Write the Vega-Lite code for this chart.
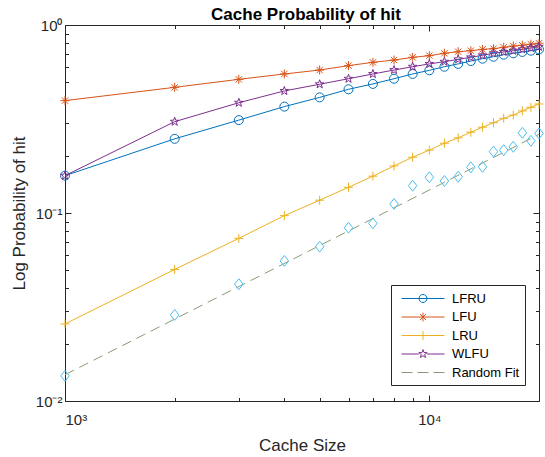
{
  "$schema": "https://vega.github.io/schema/vega-lite/v6.json",
  "autosize": {"type": "none"},
  "padding": {"left": 65, "top": 25, "right": 6, "bottom": 56},
  "width": 474,
  "height": 376,
  "background": "white",
  "title": {"text": "Cache Probability of hit", "font": "Liberation Sans", "fontSize": 17, "fontWeight": "bold", "color": "#000000", "frame": "group", "anchor": "middle", "offset": 3, "dx": 4, "dy": 9},
  "config": {
    "view": {"stroke": "#262626", "strokeWidth": 1},
    "axis": {"domain": false, "grid": false, "tickColor": "#262626", "tickWidth": 1, "labelColor": "#262626", "labelFont": "Liberation Sans", "labelFontSize": 15, "titleColor": "#262626", "titleFont": "Liberation Sans", "titleFontSize": 17, "titleFontWeight": "normal"}
  },
  "datasets": {
    "main": [
      {"size": 1000, "p": 0.158, "series": "LFRU"}, {"size": 2000, "p": 0.248, "series": "LFRU"}, {"size": 3000, "p": 0.312, "series": "LFRU"}, {"size": 4000, "p": 0.368, "series": "LFRU"}, {"size": 5000, "p": 0.412, "series": "LFRU"}, {"size": 6000, "p": 0.455, "series": "LFRU"}, {"size": 7000, "p": 0.486, "series": "LFRU"}, {"size": 8000, "p": 0.518, "series": "LFRU"}, {"size": 9000, "p": 0.549, "series": "LFRU"}, {"size": 10000, "p": 0.574, "series": "LFRU"}, {"size": 11000, "p": 0.600, "series": "LFRU"}, {"size": 12000, "p": 0.621, "series": "LFRU"}, {"size": 13000, "p": 0.643, "series": "LFRU"}, {"size": 14000, "p": 0.662, "series": "LFRU"}, {"size": 15000, "p": 0.678, "series": "LFRU"}, {"size": 16000, "p": 0.695, "series": "LFRU"}, {"size": 17000, "p": 0.707, "series": "LFRU"}, {"size": 18000, "p": 0.719, "series": "LFRU"}, {"size": 19000, "p": 0.730, "series": "LFRU"}, {"size": 20000, "p": 0.742, "series": "LFRU"},
      {"size": 1000, "p": 0.396, "series": "LFU"}, {"size": 2000, "p": 0.466, "series": "LFU"}, {"size": 3000, "p": 0.514, "series": "LFU"}, {"size": 4000, "p": 0.549, "series": "LFU"}, {"size": 5000, "p": 0.576, "series": "LFU"}, {"size": 6000, "p": 0.608, "series": "LFU"}, {"size": 7000, "p": 0.633, "series": "LFU"}, {"size": 8000, "p": 0.651, "series": "LFU"}, {"size": 9000, "p": 0.673, "series": "LFU"}, {"size": 10000, "p": 0.687, "series": "LFU"}, {"size": 11000, "p": 0.707, "series": "LFU"}, {"size": 12000, "p": 0.721, "series": "LFU"}, {"size": 13000, "p": 0.730, "series": "LFU"}, {"size": 14000, "p": 0.742, "series": "LFU"}, {"size": 15000, "p": 0.748, "series": "LFU"}, {"size": 16000, "p": 0.761, "series": "LFU"}, {"size": 17000, "p": 0.773, "series": "LFU"}, {"size": 18000, "p": 0.780, "series": "LFU"}, {"size": 19000, "p": 0.790, "series": "LFU"}, {"size": 20000, "p": 0.800, "series": "LFU"},
      {"size": 1000, "p": 0.0257, "series": "LRU"}, {"size": 2000, "p": 0.0501, "series": "LRU"}, {"size": 3000, "p": 0.0733, "series": "LRU"}, {"size": 4000, "p": 0.0968, "series": "LRU"}, {"size": 5000, "p": 0.117, "series": "LRU"}, {"size": 6000, "p": 0.137, "series": "LRU"}, {"size": 7000, "p": 0.157, "series": "LRU"}, {"size": 8000, "p": 0.178, "series": "LRU"}, {"size": 9000, "p": 0.198, "series": "LRU"}, {"size": 10000, "p": 0.216, "series": "LRU"}, {"size": 11000, "p": 0.235, "series": "LRU"}, {"size": 12000, "p": 0.251, "series": "LRU"}, {"size": 13000, "p": 0.269, "series": "LRU"}, {"size": 14000, "p": 0.286, "series": "LRU"}, {"size": 15000, "p": 0.302, "series": "LRU"}, {"size": 16000, "p": 0.319, "series": "LRU"}, {"size": 17000, "p": 0.332, "series": "LRU"}, {"size": 18000, "p": 0.349, "series": "LRU"}, {"size": 19000, "p": 0.365, "series": "LRU"}, {"size": 20000, "p": 0.380, "series": "LRU"},
      {"size": 1000, "p": 0.158, "series": "WLFU"}, {"size": 2000, "p": 0.306, "series": "WLFU"}, {"size": 3000, "p": 0.386, "series": "WLFU"}, {"size": 4000, "p": 0.446, "series": "WLFU"}, {"size": 5000, "p": 0.484, "series": "WLFU"}, {"size": 6000, "p": 0.518, "series": "WLFU"}, {"size": 7000, "p": 0.549, "series": "WLFU"}, {"size": 8000, "p": 0.576, "series": "WLFU"}, {"size": 9000, "p": 0.600, "series": "WLFU"}, {"size": 10000, "p": 0.621, "series": "WLFU"}, {"size": 11000, "p": 0.638, "series": "WLFU"}, {"size": 12000, "p": 0.657, "series": "WLFU"}, {"size": 13000, "p": 0.673, "series": "WLFU"}, {"size": 14000, "p": 0.690, "series": "WLFU"}, {"size": 15000, "p": 0.707, "series": "WLFU"}, {"size": 16000, "p": 0.719, "series": "WLFU"}, {"size": 17000, "p": 0.730, "series": "WLFU"}, {"size": 18000, "p": 0.742, "series": "WLFU"}, {"size": 19000, "p": 0.755, "series": "WLFU"}, {"size": 20000, "p": 0.767, "series": "WLFU"},
      {"size": 1000, "p": 0.0136, "series": "Random"}, {"size": 2000, "p": 0.0287, "series": "Random"}, {"size": 3000, "p": 0.0418, "series": "Random"}, {"size": 4000, "p": 0.0556, "series": "Random"}, {"size": 5000, "p": 0.0662, "series": "Random"}, {"size": 6000, "p": 0.0835, "series": "Random"}, {"size": 7000, "p": 0.0881, "series": "Random"}, {"size": 8000, "p": 0.1117, "series": "Random"}, {"size": 9000, "p": 0.1397, "series": "Random"}, {"size": 10000, "p": 0.1549, "series": "Random"}, {"size": 11000, "p": 0.148, "series": "Random"}, {"size": 12000, "p": 0.156, "series": "Random"}, {"size": 13000, "p": 0.175, "series": "Random"}, {"size": 14000, "p": 0.176, "series": "Random"}, {"size": 15000, "p": 0.212, "series": "Random"}, {"size": 16000, "p": 0.216, "series": "Random"}, {"size": 17000, "p": 0.225, "series": "Random"}, {"size": 18000, "p": 0.267, "series": "Random"}, {"size": 19000, "p": 0.242, "series": "Random"}, {"size": 20000, "p": 0.265, "series": "Random"}
    ],
    "fit": [
      {"size": 1000, "p": 0.0138, "series": "Random Fit"},
      {"size": 20000, "p": 0.262, "series": "Random Fit"}
    ]
  },
  "resolve": {"scale": {"color": "independent", "shape": "independent"}, "axis": {"x": "independent", "y": "independent"}},
  "layer": [
    {
      "data": {"name": "main"},
      "transform": [{"filter": "datum.series != 'Random'"}],
      "mark": {"type": "line", "strokeWidth": 1},
      "encoding": {
        "x": {"field": "size", "type": "quantitative", "scale": {"type": "log", "domain": [1000, 20000], "nice": false},
          "axis": {"orient": "bottom", "values": [1000, 10000], "labelExpr": "datum.value == 1000 ? '10³' : '10⁴'", "ticks": false, "labelPadding": 11, "title": "Cache Size", "titleY": 44, "titleBaseline": "middle"}},
        "y": {"field": "p", "type": "quantitative", "scale": {"type": "log", "domain": [0.01, 1], "nice": false},
          "axis": {"orient": "left", "values": [0.01, 0.1, 1], "labelExpr": "datum.value == 1 ? '10⁰' : (datum.value == 0.1 ? '10⁻¹' : '10⁻²')", "ticks": false, "labelPadding": 3, "title": "Log Probability of hit", "titleX": -46, "titleBaseline": "middle"}},
        "color": {"field": "series", "type": "nominal", "scale": {"domain": ["LFRU", "LFU", "LRU", "WLFU"], "range": ["#0072BD", "#D95319", "#EDB120", "#7E2F8E"]}, "legend": null}
      }
    },
    {
      "data": {"name": "fit"},
      "mark": {"type": "line", "strokeWidth": 1, "strokeDash": [10, 6], "color": "#879c74"},
      "encoding": {
        "x": {"field": "size", "type": "quantitative", "scale": {"type": "log", "domain": [1000, 20000], "nice": false},
          "axis": {"orient": "bottom", "values": [2000, 3000, 4000, 5000, 6000, 7000, 8000, 9000, 20000], "labels": false, "tickSize": -3.5, "title": null}},
        "y": {"field": "p", "type": "quantitative", "scale": {"type": "log", "domain": [0.01, 1], "nice": false},
          "axis": {"orient": "left", "values": [0.02, 0.03, 0.04, 0.05, 0.06, 0.07, 0.08, 0.09, 0.2, 0.3, 0.4, 0.5, 0.6, 0.7, 0.8, 0.9], "labels": false, "tickSize": -3.5, "title": null}}
      }
    },
    {
      "data": {"name": "main"},
      "transform": [{"filter": "datum.series != 'Random'"}],
      "mark": {"type": "point", "filled": false, "size": 81, "strokeWidth": 1, "opacity": 1},
      "encoding": {
        "x": {"field": "size", "type": "quantitative", "scale": {"type": "log", "domain": [1000, 20000], "nice": false},
          "axis": {"orient": "top", "values": [1000, 10000], "labels": false, "tickSize": -6, "title": null}},
        "y": {"field": "p", "type": "quantitative", "scale": {"type": "log", "domain": [0.01, 1], "nice": false},
          "axis": {"orient": "right", "values": [0.01, 0.1, 1], "labels": false, "tickSize": -6, "title": null}},
        "color": {"field": "series", "type": "nominal", "scale": {"domain": ["LFRU", "LFU", "LRU", "WLFU"], "range": ["#0072BD", "#D95319", "#EDB120", "#7E2F8E"]}, "legend": null},
        "shape": {"field": "series", "type": "nominal", "scale": {"domain": ["LFRU", "LFU", "LRU", "WLFU"], "range": ["circle", "M-1,0H1M0,-1V1M-0.7,-0.7L0.7,0.7M-0.7,0.7L0.7,-0.7", "M-1,0H1M0,-1V1", "M0,-1L0.235,-0.324L0.951,-0.309L0.38,0.124L0.588,0.809L0,0.4L-0.588,0.809L-0.38,0.124L-0.951,-0.309L-0.235,-0.324Z"]}, "legend": null}
      }
    },
    {
      "data": {"name": "main"},
      "transform": [{"filter": "datum.series == 'Random'"}],
      "mark": {"type": "point", "filled": false, "size": 90, "strokeWidth": 1, "opacity": 1, "color": "#4DBEEE", "shape": "M0,-1.15L0.9,0L0,1.15L-0.9,0Z"},
      "encoding": {
        "x": {"field": "size", "type": "quantitative", "scale": {"type": "log", "domain": [1000, 20000], "nice": false},
          "axis": {"orient": "top", "values": [2000, 3000, 4000, 5000, 6000, 7000, 8000, 9000, 20000], "labels": false, "tickSize": -3.5, "title": null}},
        "y": {"field": "p", "type": "quantitative", "scale": {"type": "log", "domain": [0.01, 1], "nice": false},
          "axis": {"orient": "right", "values": [0.02, 0.03, 0.04, 0.05, 0.06, 0.07, 0.08, 0.09, 0.2, 0.3, 0.4, 0.5, 0.6, 0.7, 0.8, 0.9], "labels": false, "tickSize": -3.5, "title": null}}
      }
    },
    {
      "data": {"name": "main"},
      "transform": [{"filter": "datum.size < 0"}],
      "mark": {"type": "point", "filled": false, "size": 256, "strokeWidth": 1, "opacity": 1},
      "encoding": {
        "x": {"field": "size", "type": "quantitative", "scale": {"type": "log", "domain": [1000, 20000], "nice": false},
          "axis": {"orient": "bottom", "values": [1000, 10000], "labels": false, "tickSize": -6, "title": null}},
        "y": {"field": "p", "type": "quantitative", "scale": {"type": "log", "domain": [0.01, 1], "nice": false},
          "axis": {"orient": "left", "values": [0.01, 0.1, 1], "labels": false, "tickSize": -6, "title": null}},
        "color": {"field": "series", "type": "nominal", "scale": {"domain": ["LFRU", "LFU", "LRU", "WLFU", "Random Fit"], "range": ["#0072BD", "#D95319", "#EDB120", "#7E2F8E", "#879c74"]},
          "legend": {"orient": "none", "legendX": 326, "legendY": 260, "title": null, "symbolSize": 256, "symbolStrokeWidth": 1, "symbolOffset": 5, "labelOffset": 34, "rowPadding": 2.5, "padding": 5, "strokeColor": "#262626", "fillColor": "white", "labelFont": "Liberation Sans", "labelFontSize": 13, "labelColor": "#000000", "cornerRadius": 0}},
        "shape": {"field": "series", "type": "nominal", "scale": {"domain": ["LFRU", "LFU", "LRU", "WLFU", "Random Fit"], "range": [
            "M-1,0H4.375M2.1875,0A0.5,0.5 0 1,1 1.1875,0A0.5,0.5 0 1,1 2.1875,0",
            "M-1,0H4.375M1.6875,-0.55V0.55M1.2975,-0.39L2.0775,0.39M1.2975,0.39L2.0775,-0.39",
            "M-1,0H4.375M1.6875,-0.55V0.55",
            "M-1,0H1.1645M2.2105,0H4.375M1.6875,-0.55L1.8169,-0.178L2.2105,-0.17L1.8967,0.068L2.0109,0.445L1.6875,0.22L1.3641,0.445L1.4783,0.068L1.1645,-0.17L1.5581,-0.178Z",
            "M-1,0H0.375M1,0H2.375M3,0H4.375"]},
          "legend": {"orient": "none", "legendX": 326, "legendY": 260, "title": null, "symbolSize": 256, "symbolStrokeWidth": 1, "symbolOffset": 5, "labelOffset": 34, "rowPadding": 2.5, "padding": 5, "strokeColor": "#262626", "fillColor": "white", "labelFont": "Liberation Sans", "labelFontSize": 13, "labelColor": "#000000", "cornerRadius": 0}}
      }
    }
  ]
}
